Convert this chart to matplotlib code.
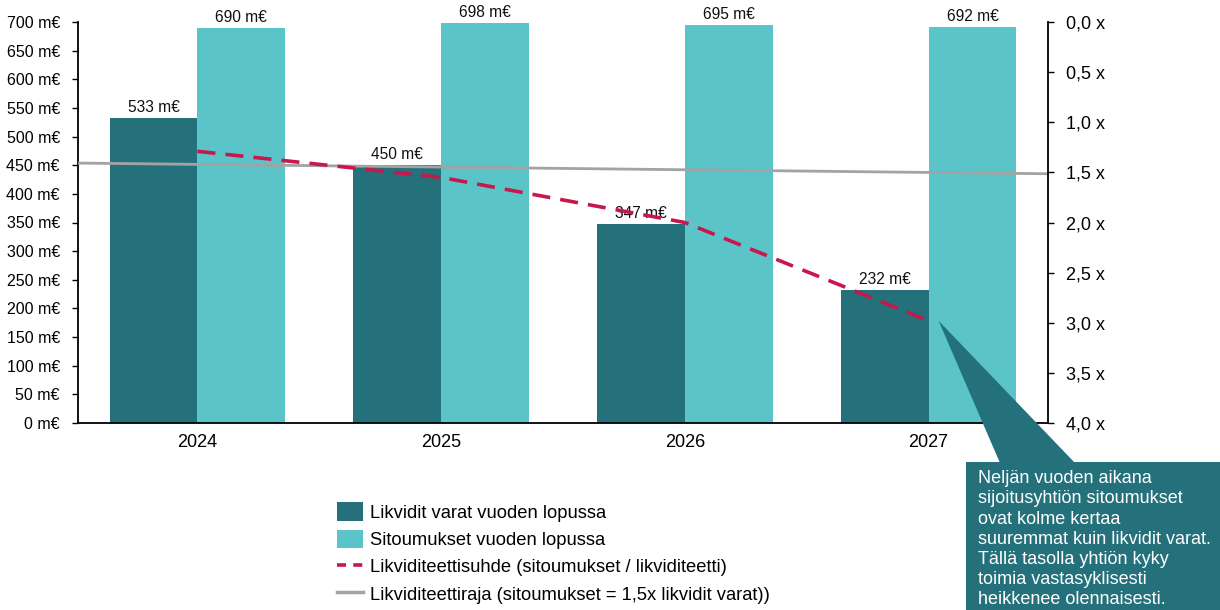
import matplotlib
matplotlib.use("Agg")
import matplotlib.pyplot as plt
import numpy as np
from matplotlib.patches import Patch, Polygon, Rectangle
from matplotlib.lines import Line2D

plt.rcParams['font.family'] = ['Liberation Sans', 'DejaVu Sans']

years = ["2024", "2025", "2026", "2027"]
liquid_assets = [533, 450, 347, 232]
commitments = [690, 698, 695, 692]
ratio = [1.29, 1.55, 2.00, 2.98]
limit_ratio = [1.42, 1.447, 1.475, 1.50]
left_ticks = [0, 50, 100, 150, 200, 250, 300, 350, 400, 450, 500, 550, 600, 650, 700]
right_ticks = [0.0, 0.5, 1.0, 1.5, 2.0, 2.5, 3.0, 3.5, 4.0]
legend_labels = ["Likvidit varat vuoden lopussa",
                 "Sitoumukset vuoden lopussa",
                 "Likviditeettisuhde (sitoumukset / likviditeetti)",
                 "Likviditeettiraja (sitoumukset = 1,5x likvidit varat))"]
note_text = ("Neljän vuoden aikana\nsijoitusyhtiön sitoumukset\novat kolme kertaa\n"
             "suuremmat kuin likvidit varat.\nTällä tasolla yhtiön kyky\n"
             "toimia vastasyklisesti\nheikkenee olennaisesti.")

DARK = "#24717B"
LIGHT = "#5BC4C9"
RED = "#C8174A"
GREY = "#A3A3A3"

W, H = 1220, 610
fig = plt.figure(figsize=(12.2, 6.1), dpi=100)
ax = fig.add_axes([78 / W, 1 - 423 / H, (1048 - 78) / W, (423 - 22) / H])
ax2 = ax.twinx()

x = np.arange(len(years))
bw = 0.36
b1 = ax.bar(x - bw / 2, liquid_assets, bw, color=DARK, zorder=2)
b2 = ax.bar(x + bw / 2, commitments, bw, color=LIGHT, zorder=2)
for rect, v in zip(list(b1) + list(b2), liquid_assets + commitments):
    ax.annotate(f"{v} m€", (rect.get_x() + rect.get_width() / 2, v),
                xytext=(0, 2), textcoords="offset points",
                ha="center", va="bottom", fontsize=11.2, color="#111111")

ax.set_xlim(-0.49, 3.49)
ax.set_ylim(0, 700)
ax.set_yticks(left_ticks)
ax.set_yticklabels([f"{t} m€" for t in left_ticks], fontsize=11.5)
ax.set_xticks(x)
ax.set_xticklabels(years, fontsize=13)
ax.tick_params(axis="x", length=0, pad=8)
ax.tick_params(axis="y", direction="out", length=4, width=1, pad=9)
for s in ["top", "right"]:
    ax.spines[s].set_visible(False)
ax.spines["left"].set_linewidth(1.3)
ax.spines["bottom"].set_linewidth(1.3)

# secondary axis
coef = np.polyfit(x, limit_ratio, 1)
xl = np.array(ax.get_xlim())
ax2.plot(xl, np.polyval(coef, xl), color=GREY, lw=2, solid_capstyle="butt")
ax2.plot(x, ratio, color=RED, lw=2.6, dashes=(5, 2.8))
ax2.set_ylim(4.0, 0.0)
ax2.set_yticks(right_ticks)
ax2.set_yticklabels([f"{t:.1f} x".replace(".", ",") for t in right_ticks], fontsize=13)
ax2.tick_params(axis="y", direction="out", length=4, width=1, pad=9)
for s in ["top", "left", "bottom"]:
    ax2.spines[s].set_visible(False)
ax2.spines["right"].set_linewidth(1.3)

# legend
handles = [Patch(facecolor=DARK, edgecolor="none"),
           Patch(facecolor=LIGHT, edgecolor="none"),
           Line2D([], [], color=RED, lw=2.6, dashes=(2.5, 2.0)),
           Line2D([], [], color=GREY, lw=2.5)]
fig.legend(handles, legend_labels, loc="upper left",
           bbox_to_anchor=(330 / W, 1 - 495 / H), frameon=False, fontsize=13.2,
           handlelength=1.4, handleheight=1.2, handletextpad=0.4,
           labelspacing=0.42, borderaxespad=0)

# callout box
tip_disp = ax2.transData.transform((x[-1], ratio[-1]))
tip_fig = fig.transFigure.inverted().transform(tip_disp)
tip = (tip_fig[0] + 10 / W, tip_fig[1])
tri = Polygon([tip, (1000 / W, 1 - 463 / H), (1075 / W, 1 - 463 / H)],
              closed=True, transform=fig.transFigure, facecolor=DARK,
              edgecolor="none", zorder=10)
fig.patches.append(tri)
box = Rectangle((966 / W, 0), (W - 966) / W, (610 - 462) / H,
                transform=fig.transFigure, facecolor=DARK, edgecolor="none", zorder=10)
fig.patches.append(box)
fig.text(978 / W, 1 - 470 / H, note_text, color="white", fontsize=13,
         va="top", ha="left", linespacing=1.25, zorder=11)

fig.savefig("out.png", dpi=100)
